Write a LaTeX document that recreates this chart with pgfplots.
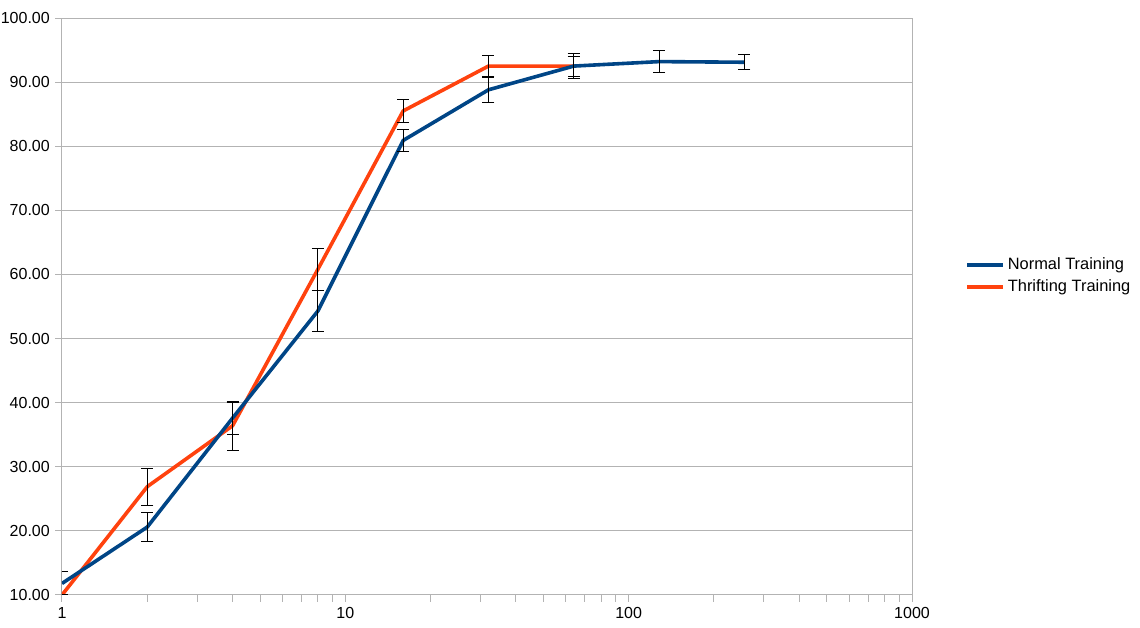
\documentclass[border=0pt]{standalone}
\usepackage{fontspec}
\setmainfont{Liberation Sans}
\usepackage{pgfplots}
\pgfplotsset{compat=1.18}
\definecolor{NormBlue}{HTML}{004586}
\definecolor{ThriftRed}{HTML}{FF420E}
\definecolor{GridGray}{HTML}{B3B3B3}

\begin{document}
\fontsize{12}{14}\selectfont
\begin{tikzpicture}
\path[use as bounding box] (-46.5pt,-24.75pt) rectangle (808.5pt,446.25pt);
\begin{axis}[
  scale only axis,
  width=637.5pt, height=432.75pt,
  xmode=log, xmin=1, xmax=1000,
  ymin=10, ymax=100,
  xtick={1,10,100,1000}, xticklabels={1,10,100,1000},
  ytick={10,20,...,100},
  yticklabel style={/pgf/number format/.cd, fixed, fixed zerofill, precision=2},
  /pgf/number format/assume math mode=true,
  tick align=outside,
  major tick length=5pt, minor tick length=5pt,
  tick style={GridGray, line width=0.75pt},
  axis line style={GridGray, line width=0.75pt},
  ymajorgrids, major grid style={GridGray, line width=0.75pt},
  xtick pos=bottom, ytick pos=left,
  minor y tick num=0,
  legend style={at={(1.058,0.553)}, anchor=west, draw=none, fill=none,
    font=\fontsize{12.3}{14}\selectfont, row sep=2pt},
  legend cell align=left,
  legend image code/.code={\draw[#1, line width=2.7pt] (0cm,0cm) -- (0.95cm,0cm);},
  errbar/.style={forget plot, draw=none, mark=none,
    error bars/.cd, y dir=both, y explicit,
    error bar style={draw=black, line width=0.75pt},
    error mark options={draw=black, rotate=90, mark size=4.5pt, line width=0.75pt}},
]
\addplot[forget plot, ThriftRed, line width=2.7pt, line join=round] coordinates {
  (1,10.0) (2,26.9) (4,36.4) (8,60.8) (16,85.5) (32,92.5) (64,92.5)
};
\addplot[forget plot, NormBlue, line width=2.7pt, line join=round] coordinates {
  (1,11.8) (2,20.6) (4,37.6) (8,54.3) (16,80.9) (32,88.8) (64,92.5) (128,93.2) (256,93.1)
};
\addplot[errbar] coordinates {
  (2,26.9) +- (0,2.9)
  (4,36.4) +- (0,3.8)
  (8,60.8) +- (0,3.3)
  (16,85.5) +- (0,1.8)
  (32,92.5) +- (0,1.6)
  (64,92.5) +- (0,1.55)
};
\addplot[errbar] coordinates {
  (1,11.8) +- (0,1.8)
  (2,20.6) +- (0,2.25)
  (4,37.6) +- (0,2.5)
  (8,54.3) +- (0,3.25)
  (16,80.9) +- (0,1.7)
  (32,88.8) +- (0,1.95)
  (64,92.5) +- (0,1.95)
  (128,93.2) +- (0,1.7)
  (256,93.1) +- (0,1.15)
};
\addlegendimage{NormBlue}
\addlegendentry{Normal Training}
\addlegendimage{ThriftRed}
\addlegendentry{Thrifting Training}
\end{axis}
\end{tikzpicture}
\end{document}
